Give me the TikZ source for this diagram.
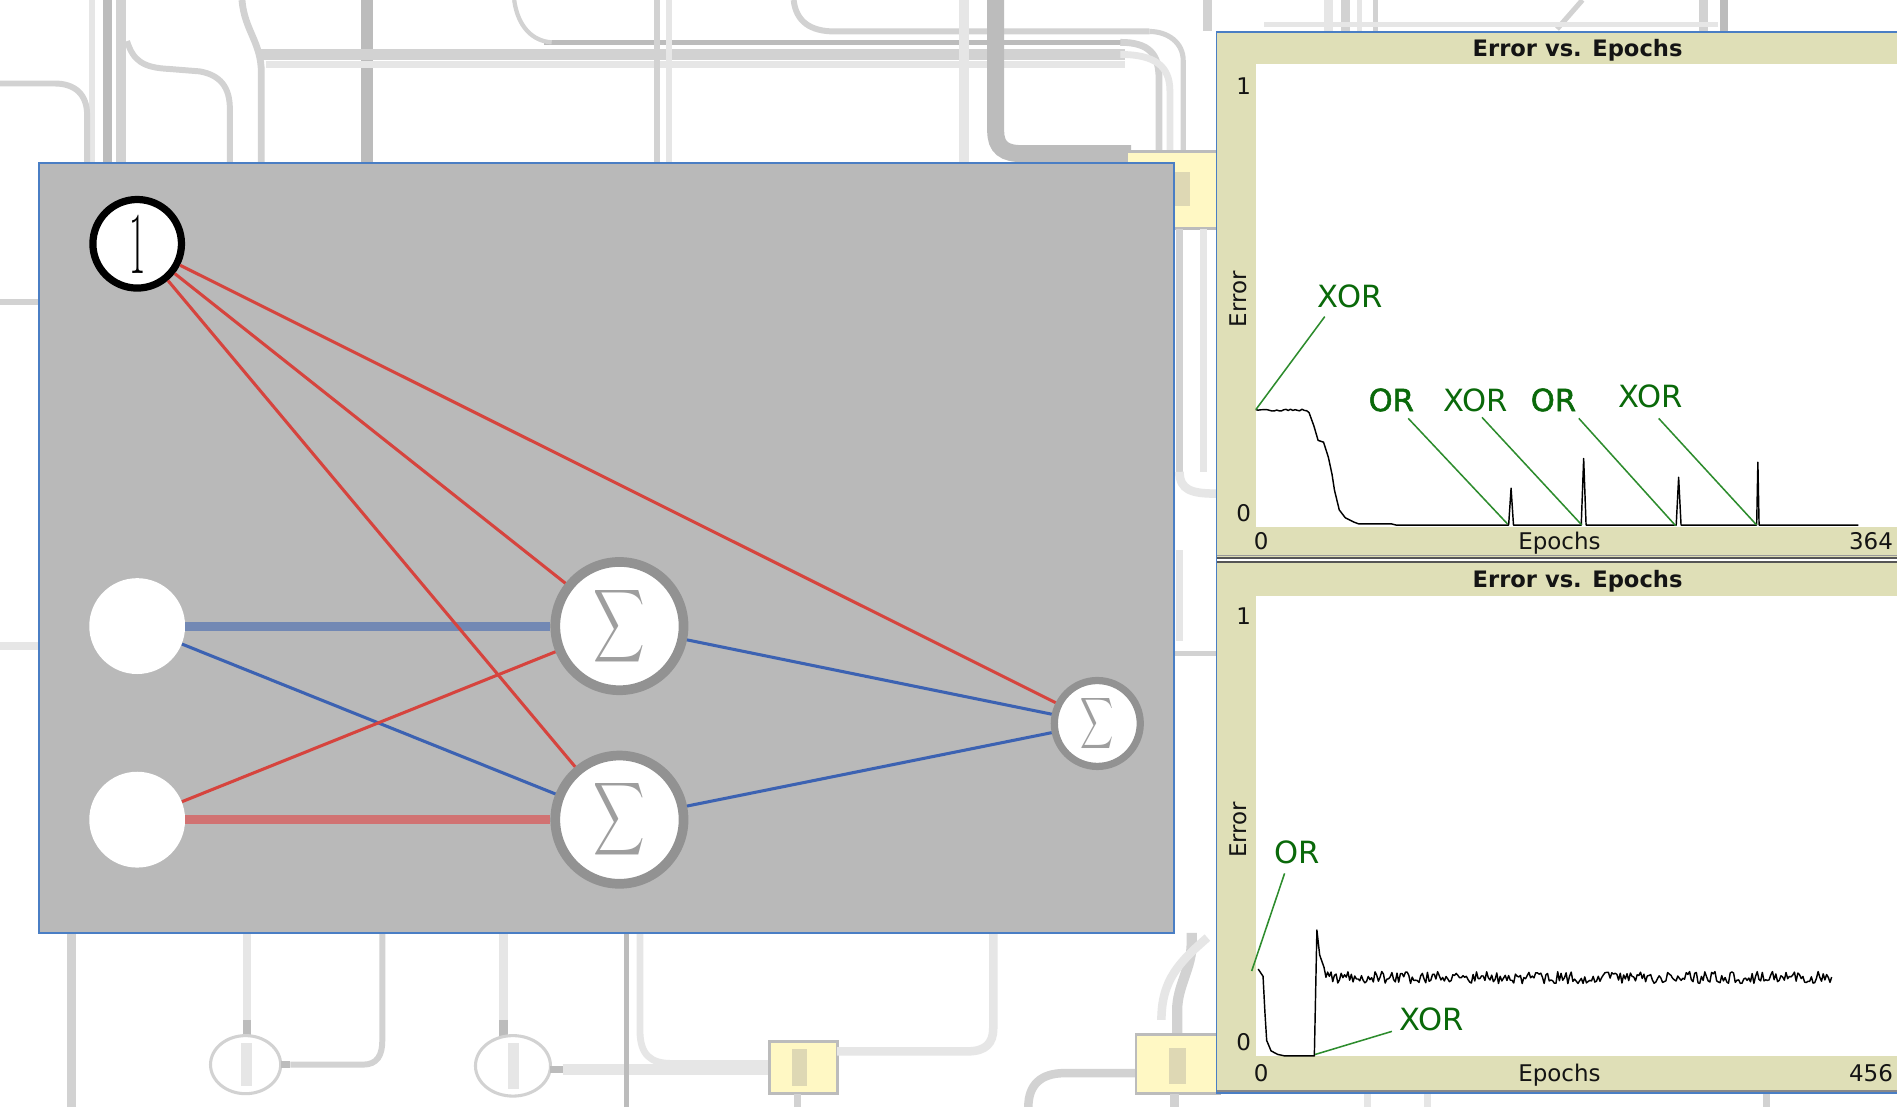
\documentclass[tikz,border=0pt]{standalone}
\usepackage{fontspec}
\newfontfamily\dejavu{DejaVu Sans}
\newfontfamily\dejavusemi[FakeBold=1.6]{DejaVu Sans}
\definecolor{panelgray}{RGB}{185,185,185}
\definecolor{frameblue}{RGB}{74,126,196}
\definecolor{thinred}{RGB}{214,68,62}
\definecolor{thickred}{RGB}{209,114,114}
\definecolor{thinblue}{RGB}{60,98,178}
\definecolor{thickblue}{RGB}{114,136,180}
\definecolor{sumring}{RGB}{146,146,146}
\definecolor{sigmagray}{RGB}{158,158,158}
\definecolor{beige}{RGB}{223,223,183}
\definecolor{gtext}{RGB}{10,105,10}
\definecolor{gline}{RGB}{45,140,45}
\definecolor{schemA}{RGB}{188,188,188}
\definecolor{schemB}{RGB}{210,210,210}
\definecolor{schemC}{RGB}{230,230,230}
\definecolor{boxyellow}{RGB}{255,248,196}
\definecolor{boxinner}{RGB}{222,216,180}
\definecolor{sepgray}{RGB}{85,85,85}
\definecolor{textdark}{RGB}{20,20,20}
\begin{document}
\begin{tikzpicture}[x=0.025cm,y=-0.025cm,line cap=butt,
  sa/.style={draw=schemA},
  sb/.style={draw=schemB},
  sc/.style={draw=schemC},
  sbox/.style={draw=schemA,fill=boxyellow,line width=1.6pt},
  innode/.style={circle,fill=white,inner sep=0pt,minimum size=1.98cm},
  sumnode/.style={circle,draw=sumring,fill=white,inner sep=0pt,text=sigmagray},
  thinedge/.style={line width=1.8pt},
  thickedge/.style={line width=5.3pt},
  lab/.style={font=\dejavu\fontsize{13.5}{14}\selectfont,inner sep=0pt,text=textdark,anchor=base},
  ttl/.style={font=\dejavu\bfseries\fontsize{13.3}{14}\selectfont,inner sep=0pt,text=textdark,anchor=base},
  ann/.style={font=\dejavu\fontsize{18}{20}\selectfont,inner sep=0pt,text=gtext},
  annb/.style={font=\dejavusemi\fontsize{18}{20}\selectfont,inner sep=0pt,text=gtext},
  gl/.style={draw=gline,line width=0.9pt},
  curve/.style={draw=black,line width=0.85pt,line join=round}]
\useasboundingbox (0,0) rectangle (1568,915);
\fill[white] (0,0) rectangle (1568,915);

% ---------- faded schematic background ----------
\draw[sc,line width=4pt] (76,0) -- (76,140);
\draw[sa,line width=5pt] (89,0) -- (89,140);
\draw[sb,line width=5.7pt] (100,0) -- (100,140);
\draw[sb,line width=3.5pt] (0,69) -- (45,69) .. controls (62,69) and (72,78) .. (72,95) -- (72,140);
\draw[sb,line width=3.5pt] (105,34) .. controls (110,50) and (118,56) .. (140,57) -- (165,59) .. controls (182,62) and (190,72) .. (190,90) -- (190,140);
\draw[sb,line width=4pt] (200,0) .. controls (202,25) and (216,35) .. (216,60) -- (216,140);
\draw[sa,line width=7pt] (303,0) -- (303,140);
\draw[sa,line width=3pt] (450,35) -- (930,35);
\draw[sb,line width=6pt] (215,45) -- (930,45);
\draw[sc,line width=4pt] (220,53) -- (930,53);
\draw[sb,line width=2.5pt] (425,0) .. controls (428,22) and (440,34) .. (456,35);
\draw[sb,line width=4pt] (543,0) -- (543,140);
\draw[sc,line width=4pt] (553,0) -- (553,140);
\draw[sb,line width=3.5pt] (656,0) .. controls (658,18) and (670,26) .. (690,26) -- (950,26);
\draw[sc,line width=6pt] (797,0) -- (797,140);
\draw[sa,line width=10pt] (823,0) -- (823,108) .. controls (823,122) and (830,127) .. (845,127) -- (935,127);
\draw[sb,line width=4pt] (926,35) .. controls (950,35) and (958,45) .. (958,65) -- (958,127);
\draw[sc,line width=4pt] (926,45) .. controls (955,45) and (967,55) .. (967,75) -- (967,127);
\draw[sb,line width=3pt] (950,26) .. controls (965,26) and (978,35) .. (978,50) -- (978,127);
\draw[sbox] (931,125) rectangle (1006,189);
\fill[boxinner] (970,142) rectangle (984,170);
\draw[sb,line width=4pt] (975,189) -- (975,390);
\draw[sc,line width=4pt] (995,189) -- (995,390);
\draw[sc,line width=5pt] (975,390) .. controls (975,405) and (985,408) .. (1005,408);
\draw[sc,line width=4pt] (975,455) -- (975,530);
\draw[sb,line width=3pt] (969,540) -- (1005,540);
\draw[sb,line width=3.5pt] (0,250) -- (33,250);
\draw[sc,line width=5pt] (0,534) -- (33,534);
% bottom
\draw[sb,line width=5pt] (59,771) -- (59,915);
\draw[sc,line width=5pt] (204,771) -- (204,845);
\draw[sa,line width=5pt] (204,843) -- (204,857);
\draw[sb,line width=1.8pt] (203,880) ellipse [x radius=29,y radius=24];
\fill[schemC] (199,862) rectangle (208,898);
\draw[sa,line width=4pt] (232,880) -- (240,880);
\draw[sb,line width=3.5pt] (240,880) -- (300,880) .. controls (312,880) and (316,872) .. (316,860) -- (316,771);
\draw[sc,line width=5pt] (416,771) -- (416,845);
\draw[sa,line width=5pt] (416,843) -- (416,857);
\draw[sb,line width=1.8pt] (424,881) ellipse [x radius=31,y radius=25];
\fill[schemC] (420,862) rectangle (429,900);
\draw[sa,line width=4pt] (455,884) -- (465,884);
\draw[sc,line width=6pt] (465,884) -- (636,884);
\draw[sa,line width=2.8pt] (518,771) -- (518,915);
\draw[sc,line width=4pt] (529,771) -- (529,852) .. controls (529,872) and (538,879) .. (555,879) -- (636,879);
\draw[sbox] (636,861) rectangle (692,904);
\fill[boxinner] (655,867) rectangle (667,898);
\draw[sb,line width=4pt] (659,904) -- (659,915);
\draw[sc,line width=5pt] (692,869) -- (800,869) .. controls (815,869) and (821,862) .. (821,850) -- (821,771);
\draw[sb,line width=6pt] (973,855) -- (973,835) .. controls (973,815) and (985,800) .. (985,780) -- (985,771);
\draw[sc,line width=5pt] (960,843) .. controls (960,810) and (975,795) .. (998,775);
\draw[sb,line width=5pt] (939,887) -- (880,887) .. controls (860,887) and (850,897) .. (850,915);
\draw[sbox] (939,855) rectangle (1008,904);
\fill[boxinner] (966,866) rectangle (980,896);
\draw[sb,line width=5pt] (971,904) -- (971,915);
% top right
\draw[sb,line width=5pt] (998,0) -- (998,26);
\draw[sc,line width=5pt] (1098,0) -- (1098,26);
\draw[sb,line width=5pt] (1112,0) -- (1112,26);
\draw[sc,line width=3pt] (1124,0) -- (1124,26);
\draw[sb,line width=3pt] (1137,0) -- (1137,26);
\draw[sb,line width=3pt] (1308,0) -- (1287,24);
\draw[sb,line width=5pt] (1408,0) -- (1408,26);
\draw[sa,line width=5pt] (1425,0) -- (1425,26);
\draw[sc,line width=3pt] (1045,20) -- (1420,20);
\draw[sc,line width=4pt] (1130,904) -- (1130,915);
\draw[sc,line width=4pt] (1180,904) -- (1180,915);
\draw[sb,line width=4pt] (1460,904) -- (1460,915);

% ---------- network panel ----------
\draw[fill=panelgray,draw=frameblue,line width=1.2pt] (32.5,134.5) rectangle (970,771);

\node[circle,draw=black,line width=4.25pt,fill=white,minimum size=1.83cm,inner sep=0pt] (bias) at (113.4,201.5)
  {\scalebox{0.4}[1]{\fontsize{52}{52}\selectfont 1}};
\node[innode] (in1) at (113.4,517.5) {};
\node[innode] (in2) at (113.4,677.5) {};
\node[sumnode,line width=5.7pt,minimum size=2.65cm] (h1) at (512,517.5) {\scalebox{2.1}[3.0]{$\displaystyle\sum$}};
\node[sumnode,line width=5.7pt,minimum size=2.65cm] (h2) at (512,677.5) {\scalebox{2.1}[3.0]{$\displaystyle\sum$}};
\node[sumnode,line width=4.25pt,minimum size=1.775cm] (out) at (907,598) {\scalebox{1.35}[2.1]{$\displaystyle\sum$}};

\draw[thickedge,draw=thickblue] (in1) -- (h1);
\draw[thinedge,draw=thinblue] (in1) -- (h2);
\draw[thinedge,draw=thinblue] (h1) -- (out);
\draw[thinedge,draw=thinblue] (h2) -- (out);
\draw[thickedge,draw=thickred] (in2) -- (h2);
\draw[thinedge,draw=thinred] (in2) -- (h1);
\draw[thinedge,draw=thinred] (bias) -- (h1);
\draw[thinedge,draw=thinred] (bias) -- (h2);
\draw[thinedge,draw=thinred] (bias) -- (out);

% ---------- plot panels ----------
\fill[beige] (1006,27) rectangle (1568,460);
\fill[white] (1038,53) rectangle (1568,435.5);
\draw[draw=sepgray!60,line width=0.6pt] (1006,459.3) -- (1568,459.3);
\draw[draw=sepgray,line width=0.9pt] (1006,461) -- (1568,461);
\draw[draw=sepgray,line width=0.9pt] (1006,464.5) -- (1568,464.5);
\fill[beige] (1006,465.2) rectangle (1568,902);
\fill[white] (1038,492.5) rectangle (1568,873);
\draw[draw=sepgray!70,line width=0.8pt] (1006,901.8) -- (1568,901.8);
\draw[draw=frameblue,line width=1.1pt] (1568,26.5) -- (1005.5,26.5) -- (1005.5,903.5) -- (1568,903.5);

% top plot labels
\node[ttl] (t1) at (1304,47) {Error vs. Epochs};
\node[lab] (y1a) at (1028,78) {1};
\node[lab] (y0a) at (1028,431) {0};
\node[lab,rotate=90] (ea) at (1030.5,247.5) {Error};
\node[lab] (x0a) at (1042.5,454.6) {0};
\node[lab] (xla) at (1289,454.6) {Epochs};
\node[lab] (xma) at (1546.5,454.6) {364};
% bottom plot labels
\node[ttl] (t2) at (1304,486) {Error vs. Epochs};
\node[lab] (y1b) at (1028,516) {1};
\node[lab] (y0b) at (1028,868.7) {0};
\node[lab,rotate=90] (eb) at (1030.5,686) {Error};
\node[lab] (x0b) at (1042.5,893.6) {0};
\node[lab] (xlb) at (1289,893.6) {Epochs};
\node[lab] (xmb) at (1546.5,893.6) {456};

% top curve
\pgfmathsetseed{11}
\draw[curve] (1038,338.6) -- plot[domain=1040:1080,samples=22] (\x,{339+0.9*rand}) -- (1082,341) -- (1086,352) -- (1089.5,364) -- (1094,365.5) -- (1098,378) -- (1101,392) -- (1103,405) -- (1107,421.5) -- (1112,428) -- (1119,431.5) -- (1123,433) -- (1150,433) -- (1154,434)
  -- (1247,434) -- (1249,403.5) -- (1251,434)
  -- (1307,434) -- (1309,379) -- (1311,434)
  -- (1385.5,434) -- (1387.5,394.5) -- (1389.5,434)
  -- (1452,434) -- (1453,382) -- (1454,434) -- (1536,434);
% bottom curve
\pgfmathsetseed{5}
\draw[curve] (1040,801) -- (1044,807) -- (1045.5,836) -- (1047,860) -- (1050.6,868.6) -- (1056,871.5) -- (1062,872.8) -- (1086.4,872.8) -- (1088.5,768.7) -- (1090.8,789.4) -- (1094.4,799.6)
  -- plot[domain=1096:1514,samples=300] (\x,{808+5*rand});

% annotations
\node[ann] (xor1) at (1116,244.7) {XOR};
\node[annb] (or1) at (1150,330.6) {OR};
\node[ann] (xor2) at (1219.8,330.6) {XOR};
\node[annb] (or2) at (1284,330.6) {OR};
\node[ann] (xor3) at (1364,327.9) {XOR};
\node[ann] (or3) at (1071.9,704.3) {OR};
\node[ann] (xor4) at (1183,842.3) {XOR};
\coordinate (p1) at (1038,338.6);
\coordinate (p2) at (1246,433);
\coordinate (p3) at (1307.5,434);
\coordinate (p4) at (1385,434.5);
\coordinate (p5) at (1452,434);
\coordinate (p6) at (1034.6,802.6);
\coordinate (p7) at (1087,871.6);
\coordinate (s1) at (1095,261.7);
\coordinate (s2) at (1164,345.8);
\coordinate (s3) at (1225,345);
\coordinate (s4) at (1305,345.8);
\coordinate (s5) at (1371,345.8);
\coordinate (s6) at (1061.8,721.9);
\coordinate (s7) at (1150.5,852.5);
\draw[gl] (s1) -- (p1);
\draw[gl] (s2) -- (p2);
\draw[gl] (s3) -- (p3);
\draw[gl] (s4) -- (p4);
\draw[gl] (s5) -- (p5);
\draw[gl] (s6) -- (p6);
\draw[gl] (s7) -- (p7);
\end{tikzpicture}
\end{document}
